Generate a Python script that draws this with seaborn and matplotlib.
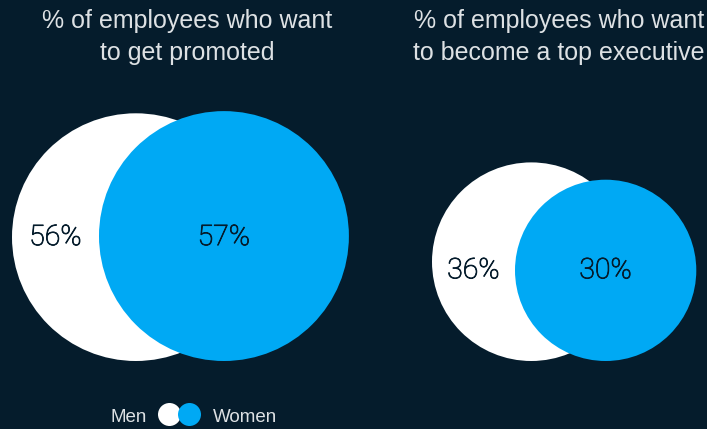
import numpy as np
import pandas as pd
import matplotlib
matplotlib.use("Agg")
import matplotlib.pyplot as plt
import matplotlib.patheffects as pe
import seaborn as sns

# ---- data ----
titles = [
    ["% of employees who want", "to get promoted"],
    ["% of employees who want", "to become a top executive"],
]
series = ["Men", "Women"]
men = [56, 36]
women = [57, 30]

# ---- style ----
BG = "#051c2c"
BLUE = "#00a9f4"
WHITE = "#ffffff"
TITLE_COLOR = "#dde1e4"
INK = "#051c2c"
TEXT_FONT = ["Liberation Sans", "DejaVu Sans"]
VALUE_FONT = ["Roboto", "Liberation Sans", "DejaVu Sans"]

W, H, DPI = 707, 429, 100
px_per_sqrt = 16.55          # circle radius (px) = px_per_sqrt * sqrt(value)
base_y = 361                 # circles sit on a common bottom line
pair_left = [12, 432]        # left edge of the men's circle in each pair
women_shift = [87, 83]       # women's left edge offset from men's left edge
title_x = [187.5, 559]

sns.set_theme(style="white")
plt.rcParams["font.family"] = TEXT_FONT

fig = plt.figure(figsize=(W / DPI, H / DPI), dpi=DPI, facecolor=BG)
ax = fig.add_axes([0, 0, 1, 1])
ax.set_facecolor(BG)

rows = []
for g, (m, w) in enumerate(zip(men, women)):
    rm = px_per_sqrt * np.sqrt(m)
    rw = px_per_sqrt * np.sqrt(w)
    xm = pair_left[g] + rm
    xw = pair_left[g] + women_shift[g] + rw
    rows.append(dict(group=g, series="Men", value=m, r=rm, x=xm, y=base_y - rm))
    rows.append(dict(group=g, series="Women", value=w, r=rw, x=xw, y=base_y - rw))
df = pd.DataFrame(rows)

pt_per_px = 72.0 / DPI
df["s"] = (2 * df["r"] * pt_per_px) ** 2
palette = {"Men": WHITE, "Women": BLUE}

sns.scatterplot(
    data=df, x="x", y="y", hue="series", palette=palette,
    s=df["s"].to_numpy(), linewidth=0, legend=False, ax=ax, zorder=2,
)

# value labels: light face, slightly thickened with a thin outline
value_fx = [pe.withStroke(linewidth=0.6, foreground=INK)]
for g in range(len(men)):
    sub = df[df.group == g].set_index("series")
    ly = sub["y"].max() + 8
    m_left = sub.loc["Men", "x"] - sub.loc["Men", "r"]
    w_left = sub.loc["Women", "x"] - sub.loc["Women", "r"]
    for x, val in [((m_left + w_left) / 2, sub.loc["Men", "value"]),
                   (sub.loc["Women", "x"], sub.loc["Women", "value"])]:
        ax.text(x, ly, f"{val}%", ha="center", va="baseline",
                fontsize=20.5, fontweight="light", family=VALUE_FONT,
                color=INK, zorder=3, path_effects=value_fx)

# titles
for g, lines in enumerate(titles):
    for i, line in enumerate(lines):
        ax.text(title_x[g], 28 + 32 * i, line, ha="center", va="baseline",
                fontsize=18, color=TITLE_COLOR)

# legend
leg = pd.DataFrame(dict(series=series, x=[169.5, 189.5], y=[414.5, 414.5]))
sns.scatterplot(
    data=leg, x="x", y="y", hue="series", palette=palette,
    s=(23 * pt_per_px) ** 2, linewidth=0, legend=False, ax=ax, zorder=2,
)
ax.text(147, 422, series[0], ha="right", va="baseline", fontsize=13.5,
        color=TITLE_COLOR)
ax.text(213, 422, series[1], ha="left", va="baseline", fontsize=13.5,
        color=TITLE_COLOR)

ax.set_xlim(0, W)
ax.set_ylim(H, 0)
ax.axis("off")

fig.savefig("out.png", dpi=DPI, facecolor=BG)
